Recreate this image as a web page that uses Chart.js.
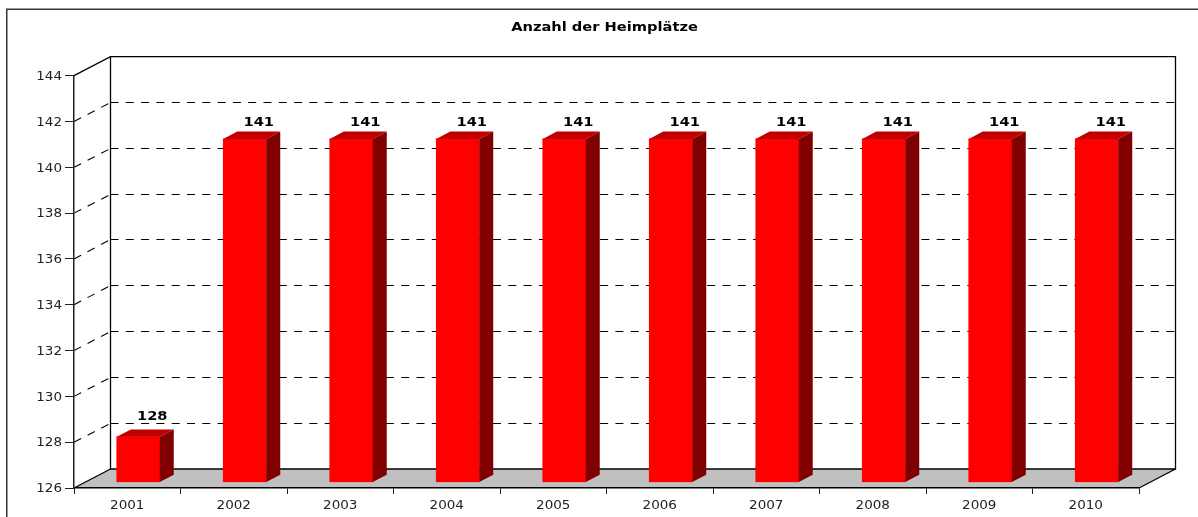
<!DOCTYPE html>
<html>
<head>
<meta charset="utf-8">
<style>
  html, body { margin: 0; padding: 0; background: #fff; overflow: hidden; }
  #wrap { width: 1198px; height: 517px; }
</style>
<script src="https://cdn.jsdelivr.net/npm/chart.js@4"></script>
</head>
<body>
<div id="wrap"><canvas id="chart"></canvas></div>
<script>
var years = ["2001", "2002", "2003", "2004", "2005", "2006", "2007", "2008", "2009", "2010"];
var places = [128, 141, 141, 141, 141, 141, 141, 141, 141, 141];
var yMin = 126, yMax = 144, yStep = 2;
var chartTitle = "Anzahl der Heimplätze";

// depth of the box and of the bars, in px
var boxDx = 36.5, boxDy = -19;
var barShiftX = 11, barShiftY = -5.5;
var barDx = 14, barDy = -7.3;

function poly(ctx, pts, fill) {
    ctx.beginPath();
    ctx.moveTo(pts[0][0], pts[0][1]);
    for (var i = 1; i < pts.length; i++) ctx.lineTo(pts[i][0], pts[i][1]);
    ctx.closePath();
    ctx.fillStyle = fill;
    ctx.fill();
}

// the reference text is the same glyphs pulled wider, so stretch fillText around its anchor
function stretchText(ctx) {
    var plain = ctx.fillText;
    ctx.fillText = function (text, x, y) {
        var isTitle = text === chartTitle;
        var isBold = ctx.font.indexOf("bold") >= 0;
        var k = isBold ? 1.22 : 1.1;
        ctx.save();
        ctx.translate(isTitle ? x - 2 : x, y + 1);
        ctx.scale(k, 1);
        plain.call(ctx, text, 0, 0);
        ctx.restore();
    };
}

var box3d = {
    id: "box3d",
    beforeInit: function (chart) {
        stretchText(chart.ctx);
    },
    beforeDraw: function (chart) {
        var ctx = chart.ctx, a = chart.chartArea, y = chart.scales.y;
        ctx.save();
        // outer frame, only top and left
        ctx.strokeStyle = "#333";
        ctx.lineWidth = 1.5;
        ctx.beginPath();
        ctx.moveTo(6.75, 517);
        ctx.lineTo(6.75, 9.25);
        ctx.lineTo(1198, 9.25);
        ctx.stroke();
        // floor
        poly(ctx, [[a.left, a.bottom], [a.left + boxDx, a.bottom + boxDy],
                   [a.right + boxDx, a.bottom + boxDy], [a.right, a.bottom]], "#c0c0c0");
        // grid on the wall and the side
        ctx.strokeStyle = "#000";
        ctx.lineWidth = 1.1;
        ctx.setLineDash([8, 7.3]);
        for (var v = yMin + yStep; v < yMax; v += yStep) {
            var py = Math.floor(y.getPixelForValue(v) + boxDy) + 0.5;
            ctx.beginPath();
            ctx.moveTo(a.left, y.getPixelForValue(v));
            ctx.lineTo(a.left + boxDx, py);
            ctx.stroke();
            ctx.beginPath();
            ctx.moveTo(a.left + boxDx, py);
            ctx.lineTo(a.right + boxDx, py);
            ctx.stroke();
        }
        ctx.setLineDash([]);
        // box edges
        ctx.lineWidth = 1.3;
        ctx.beginPath();
        ctx.moveTo(a.left, a.top);
        ctx.lineTo(a.left + boxDx, a.top + boxDy);
        ctx.lineTo(a.right + boxDx, a.top + boxDy);
        ctx.lineTo(a.right + boxDx, a.bottom + boxDy);
        ctx.lineTo(a.left + boxDx, a.bottom + boxDy);
        ctx.lineTo(a.left + boxDx, a.top + boxDy);
        ctx.moveTo(a.left, a.bottom);
        ctx.lineTo(a.left + boxDx, a.bottom + boxDy);
        ctx.moveTo(a.right, a.bottom);
        ctx.lineTo(a.right + boxDx, a.bottom + boxDy);
        ctx.stroke();
        ctx.restore();
    },
    beforeDatasetsDraw: function (chart) {
        chart.ctx.save();
        chart.ctx.translate(barShiftX, barShiftY);
    },
    afterDatasetsDraw: function (chart) {
        var ctx = chart.ctx;
        chart.getDatasetMeta(0).data.forEach(function (bar, i) {
            var l = bar.x - bar.width / 2, r = bar.x + bar.width / 2;
            poly(ctx, [[l, bar.y], [l + barDx, bar.y + barDy], [r + barDx, bar.y + barDy], [r, bar.y]], "#c00000");
            poly(ctx, [[r, bar.y], [r + barDx, bar.y + barDy], [r + barDx, bar.base + barDy], [r, bar.base]], "#800000");
            ctx.fillStyle = "#000";
            ctx.font = "bold 12px 'DejaVu Sans'";
            ctx.textAlign = "center";
            ctx.textBaseline = "middle";
            // the short bar has its label a bit higher, clear of the grid line
            ctx.fillText(String(places[i]), bar.x + barDx, bar.y - (i === 0 ? 21 : 17.5));
        });
        ctx.restore();
    }
};

Chart.defaults.animation = false;
new Chart(document.getElementById("chart"), {
    type: "bar",
    data: {
        labels: years,
        datasets: [{ data: places, backgroundColor: "#ff0000", barThickness: 43, base: yMin }]
    },
    plugins: [box3d],
    options: {
        responsive: true,
        maintainAspectRatio: false,
        animation: false,
        layout: { padding: { top: 0, left: 0, right: 59, bottom: 0 } },
        plugins: {
            legend: { display: false },
            tooltip: { enabled: false },
            title: {
                display: true,
                text: chartTitle,
                color: "#000",
                fullSize: false,
                font: { family: "'DejaVu Sans'", size: 12, weight: "bold" },
                padding: { top: 20, bottom: 41.3 }
            }
        },
        scales: {
            x: {
                offset: true,
                grid: { display: true, drawOnChartArea: false, offset: true, color: "#222", tickLength: 6 },
                border: { color: "#000", width: 1.5 },
                ticks: { color: "#222", padding: 3, maxRotation: 0, font: { family: "'DejaVu Sans'", size: 12.3 } },
                afterFit: function (s) { s.height = 29; }
            },
            y: {
                min: yMin,
                max: yMax,
                grid: { display: true, drawOnChartArea: false, color: "#222", tickLength: 9 },
                border: { color: "#222", width: 1.5 },
                ticks: { stepSize: yStep, color: "#222", padding: 3, font: { family: "'DejaVu Sans'", size: 12.3 } },
                afterFit: function (s) { s.width = 74; }
            }
        }
    }
});
</script>
</body>
</html>
